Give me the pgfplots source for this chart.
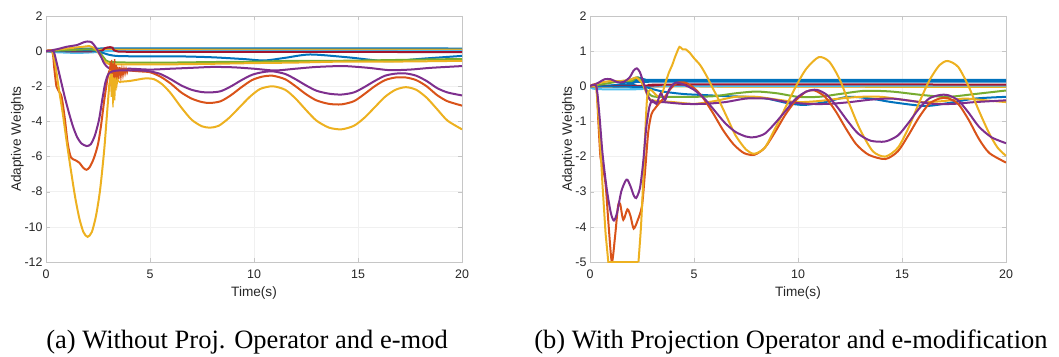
\documentclass[border=0pt]{standalone}
\usepackage{pgfplots}
\pgfplotsset{compat=1.18}
\usepackage{fontspec}
\setmainfont{Liberation Serif}
\newfontfamily\arial{Liberation Sans}
\newcommand\tickfont{\arial\fontsize{12.4}{14}\selectfont}
\newcommand\labfont{\arial\fontsize{13.6}{15}\selectfont}
\definecolor{mblue}{RGB}{0,114,189}
\definecolor{morange}{RGB}{217,83,25}
\definecolor{myellow}{RGB}{237,177,32}
\definecolor{mpurple}{RGB}{126,47,142}
\definecolor{mgreen}{RGB}{119,172,48}
\definecolor{mlblue}{RGB}{77,190,238}
\definecolor{mred}{RGB}{162,20,47}
\pgfplotsset{mstyle/.style={scale only axis, width=416pt, height=246pt,
  xmin=0, xmax=20, xtick={0,5,10,15,20},
  grid=major, major grid style={gray!12, line width=0.5pt},
  axis line style={gray!45, line width=0.6pt}, tick style={gray!45},
  tick align=inside, major tick length=4pt,
  ticklabel style={font=\tickfont, text=black!85},
  xticklabel style={yshift=-4pt},
  label style={font=\labfont, text=black!85},
  xlabel={Time(s)}, ylabel={Adaptive Weights},
  xlabel shift=1pt, ylabel shift=-6pt,
  /pgf/number format/assume math mode=true,
  every axis plot/.append style={line width=2pt, smooth, tension=0.45}}}
\begin{document}
\begin{tikzpicture}
\useasboundingbox (0,0) rectangle (1059pt,356pt);
% ---------------- (a) ----------------
\begin{axis}[mstyle, at={(46pt,94pt)}, anchor=south west, ymin=-12, ymax=2, ytick={-12,-10,...,2}]
% near-zero lines
\addplot[mblue] coordinates {(0,0) (0.5,0.05) (1.5,0.1) (2.5,0.15) (20,0.15)};
\addplot[morange] coordinates {(0,0) (2,0.02) (3,0.05) (20,0.05)};
\addplot[myellow] coordinates {(0,0) (2,0.05) (3,0.08) (20,0.08)};
\addplot[mlblue] coordinates {(0,0) (0.3,-0.05) (1.5,-0.1) (2.5,-0.05) (3,0) (20,0.02)};
\addplot[mred] coordinates {(0,0) (2.5,0) (2.8,0.15) (3.0,0.22) (3.2,0.2) (3.4,0) (5,-0.04) (20,-0.05)};
\addplot[mblue] coordinates {(0,0) (2.0,0.05) (2.6,-0.05) (3.0,-0.2) (3.5,-0.28) (5,-0.3) (6.5,-0.3) (8,-0.35) (9.5,-0.45) (10.5,-0.53) (11.5,-0.38) (12.7,-0.19) (14.5,-0.35) (16.4,-0.57) (18.2,-0.42) (20,-0.27)};
\addplot[mgreen] coordinates {(0,0) (2.0,0.1) (2.5,0.0) (2.8,-0.4) (3.0,-0.6) (4,-0.65) (6,-0.65) (8,-0.62) (10,-0.6) (12,-0.55) (14,-0.55) (16,-0.52) (18,-0.48) (20,-0.45)};
\addplot[myellow] coordinates {(0,0) (1,0.15) (1.8,0.25) (2.1,0.28) (2.4,0.1) (2.7,-0.4) (3.0,-0.72) (4,-0.75) (6,-0.75) (8,-0.72) (10,-0.68) (12,-0.65) (14,-0.6) (16,-0.6) (18,-0.58) (20,-0.55)};
\addplot[mpurple] coordinates {(0,0) (0.5,0.1) (1.0,0.25) (1.5,0.35) (1.8,0.5) (2.0,0.55) (2.2,0.5) (2.4,0.2) (2.6,-0.2) (2.8,-0.7) (3.0,-0.95) (3.3,-1.05) (4.0,-1.0) (5.0,-1.05) (6.0,-1.0) (7.0,-0.95) (8.0,-0.9) (9.0,-0.92) (10.0,-1.0) (11.0,-1.1) (12.0,-1.0) (13.0,-0.9) (14.3,-0.85) (15.5,-0.95) (16.5,-1.08) (17.5,-1.05) (18.5,-0.95) (20,-0.85)};
% big curves
\addplot[morange] coordinates {(0,0) (0.3,0) (0.4,-1.0) (0.5,-2.0) (0.6,-2.25) (0.75,-2.6) (0.9,-3.8) (1.05,-5.3) (1.2,-6.05) (1.4,-6.2) (1.6,-6.35) (1.8,-6.65) (1.95,-6.75) (2.1,-6.6) (2.3,-6.1) (2.5,-5.3) (2.65,-4.2) (2.8,-2.8) (2.95,-1.6) (3.05,-1.1)};
\addplot[morange, line width=1.3pt, sharp plot] coordinates {(3.05,-1.1) (3.1,-0.6) (3.13,-2.0) (3.16,-0.5) (3.2,-2.3) (3.23,-0.7) (3.27,-1.9) (3.3,-0.45) (3.34,-2.0) (3.38,-0.8) (3.42,-1.7) (3.46,-0.9) (3.5,-1.6) (3.55,-0.9) (3.6,-1.5) (3.65,-1.0) (3.7,-1.4) (3.75,-1.0) (3.8,-1.3) (3.85,-1.0) (3.9,-1.25) (3.95,-1.05) (4.0,-1.1)};
\addplot[morange] coordinates {(4.0,-1.1) (4.5,-1.15) (5.0,-1.2) (5.5,-1.45) (6.0,-1.85) (6.5,-2.35) (7.0,-2.7) (7.5,-2.9) (7.9,-2.95) (8.4,-2.85) (8.9,-2.5) (9.4,-2.05) (9.9,-1.65) (10.4,-1.45) (10.9,-1.4) (11.5,-1.6) (12.0,-2.0) (12.5,-2.45) (13.0,-2.8) (13.6,-3.0) (14.2,-3.03) (14.8,-2.85) (15.3,-2.45) (15.8,-2.0) (16.3,-1.65) (16.8,-1.5) (17.3,-1.5) (17.8,-1.65) (18.3,-2.0) (18.8,-2.5) (19.3,-2.85) (20,-3.1)};
\addplot[myellow] coordinates {(0,0) (0.3,0) (0.45,-0.8) (0.6,-2.0) (0.8,-3.5) (1.0,-5.2) (1.2,-6.8) (1.4,-8.3) (1.6,-9.5) (1.8,-10.3) (2.0,-10.57) (2.2,-10.3) (2.4,-9.4) (2.6,-7.9) (2.8,-5.6) (2.95,-3.3) (3.05,-1.8)};
\addplot[myellow, line width=1.3pt, sharp plot] coordinates {(3.05,-1.8) (3.1,-1.1) (3.14,-2.6) (3.18,-1.3) (3.22,-3.2) (3.26,-1.5) (3.3,-2.8) (3.35,-1.5) (3.4,-2.0) (3.45,-1.6) (3.5,-1.75)};
\addplot[myellow] coordinates {(3.5,-1.75) (4.0,-1.7) (4.5,-1.6) (4.8,-1.55) (5.2,-1.6) (5.6,-1.9) (6.0,-2.4) (6.5,-3.2) (7.0,-3.9) (7.5,-4.28) (7.9,-4.35) (8.3,-4.25) (8.8,-3.8) (9.3,-3.2) (9.8,-2.6) (10.3,-2.15) (10.9,-2.0) (11.5,-2.2) (12.0,-2.7) (12.5,-3.35) (13.0,-3.95) (13.6,-4.35) (14.2,-4.45) (14.8,-4.25) (15.3,-3.8) (15.8,-3.2) (16.3,-2.6) (16.8,-2.2) (17.3,-2.05) (17.8,-2.2) (18.3,-2.65) (18.8,-3.3) (19.3,-3.95) (20,-4.45)};
\addplot[mpurple] coordinates {(0,0) (0.35,0) (0.5,-0.6) (0.7,-1.6) (0.9,-2.6) (1.1,-3.5) (1.3,-4.3) (1.5,-4.9) (1.7,-5.25) (1.95,-5.4) (2.15,-5.3) (2.35,-4.8) (2.55,-3.9) (2.7,-2.8) (2.85,-1.8) (3.0,-1.3) (3.2,-1.15) (3.5,-1.1) (4.0,-1.1) (4.5,-1.1) (5.0,-1.15) (5.5,-1.3) (6.0,-1.6) (6.5,-1.95) (7.0,-2.2) (7.5,-2.33) (7.9,-2.35) (8.4,-2.28) (8.9,-2.0) (9.4,-1.65) (9.9,-1.35) (10.4,-1.2) (10.9,-1.15) (11.5,-1.3) (12.0,-1.6) (12.5,-1.95) (13.0,-2.25) (13.6,-2.42) (14.2,-2.47) (14.8,-2.35) (15.3,-2.05) (15.8,-1.7) (16.3,-1.4) (16.8,-1.28) (17.3,-1.27) (17.8,-1.4) (18.3,-1.7) (18.8,-2.1) (19.3,-2.35) (20,-2.52)};
\end{axis}
% ---------------- (b) ----------------
\begin{axis}[mstyle, at={(590pt,94pt)}, anchor=south west, ymin=-5, ymax=2, ytick={-5,-4,...,2}]
\addplot[mblue] coordinates {(0,0) (1.0,0.02) (1.6,0.08) (2.0,0.2) (2.3,0.25) (2.6,0.2) (3,0.18) (20,0.18)};
\addplot[mblue] coordinates {(0,0) (2,0.05) (3,0.13) (20,0.13)};
\addplot[morange] coordinates {(0,0) (3.5,0) (4.0,0.05) (4.3,0.1) (4.7,0.05) (5.5,0) (20,0.0)};
\addplot[myellow] coordinates {(0,0) (20,-0.02)};
\addplot[mlblue] coordinates {(0,0) (0.3,-0.08) (2.5,-0.08) (3,0) (20,0.02)};
\addplot[mred] coordinates {(0,0) (3,0.02) (4,0.05) (20,0.05)};
\addplot[mblue] coordinates {(0,0) (2.5,-0.02) (3.0,-0.08) (3.5,-0.15) (4.5,-0.22) (5.5,-0.25) (6.5,-0.28) (7.5,-0.3) (8.5,-0.35) (9.5,-0.48) (10.3,-0.53) (11.3,-0.45) (12.4,-0.3) (13.5,-0.35) (14.5,-0.45) (16.1,-0.56) (17.2,-0.48) (18.5,-0.35) (20,-0.3)};
\addplot[mgreen] coordinates {(0,0) (0.5,0.05) (1.0,0.1) (1.5,0.15) (2.0,0.15) (2.3,0.25) (2.6,0.0) (2.9,-0.25) (3.2,-0.3) (4,-0.3) (5,-0.3) (6,-0.28) (7,-0.2) (8,-0.15) (9,-0.2) (10,-0.3) (11,-0.3) (12,-0.22) (13.2,-0.13) (14.5,-0.15) (16,-0.25) (17.2,-0.3) (18.5,-0.22) (20,-0.12)};
\addplot[myellow] coordinates {(0,0) (0.5,0.1) (1.0,0.15) (1.5,0.15) (2.0,0.2) (2.2,0.25) (2.5,0.1) (2.8,-0.3) (3.0,-0.4) (4,-0.45) (5,-0.5) (6,-0.42) (7,-0.3) (8,-0.3) (9,-0.38) (10,-0.45) (11,-0.42) (12,-0.35) (13,-0.3) (14,-0.3) (15,-0.38) (16,-0.45) (17,-0.42) (18,-0.35) (19,-0.4) (20,-0.45)};
\addplot[mpurple] coordinates {(0,0) (0.4,0.1) (0.7,0.2) (1.0,0.2) (1.3,0.12) (1.6,0.12) (1.9,0.25) (2.1,0.45) (2.25,0.51) (2.4,0.4) (2.6,0.05) (2.8,-0.3) (3.0,-0.45) (3.5,-0.45) (4.5,-0.5) (5.5,-0.5) (6.5,-0.45) (7.5,-0.35) (8.5,-0.35) (9.5,-0.45) (10.5,-0.5) (11.5,-0.5) (12.5,-0.45) (13.5,-0.38) (14.5,-0.35) (15.5,-0.42) (16.5,-0.5) (17.5,-0.5) (18.5,-0.45) (20,-0.4)};
% big curves
\addplot[morange] coordinates {(0,0) (0.3,0) (0.4,-1.0) (0.5,-2.0) (0.6,-2.25) (0.75,-2.8) (0.9,-4.0) (1.05,-5.0) (1.2,-4.3) (1.35,-3.4) (1.45,-3.35) (1.6,-3.8) (1.8,-3.5) (1.95,-3.7) (2.1,-4.05) (2.3,-3.8) (2.5,-3.4) (2.65,-2.4) (2.8,-1.3) (2.95,-0.8) (3.1,-0.65) (3.3,-0.5) (3.6,-0.3) (3.9,-0.05) (4.2,0.1) (4.6,0.1) (5.0,-0.05) (5.4,-0.3) (5.9,-0.75) (6.4,-1.25) (6.9,-1.65) (7.4,-1.9) (7.9,-1.95) (8.4,-1.75) (8.9,-1.3) (9.4,-0.8) (9.9,-0.4) (10.4,-0.15) (10.8,-0.12) (11.3,-0.3) (11.8,-0.7) (12.3,-1.2) (12.8,-1.65) (13.4,-1.95) (14.2,-2.07) (14.8,-1.85) (15.3,-1.4) (15.8,-0.9) (16.3,-0.5) (16.8,-0.35) (17.2,-0.34) (17.7,-0.5) (18.2,-0.95) (18.7,-1.5) (19.2,-1.9) (20,-2.17)};
\addplot[myellow, sharp plot] coordinates {(0,0) (0.3,0) (0.45,-1.2) (0.6,-2.8) (0.75,-4.2) (0.88,-5) (2.33,-5)};
\addplot[myellow] coordinates {(2.33,-5) (2.45,-4.0) (2.55,-2.8) (2.65,-1.4) (2.75,-0.3) (2.9,-0.1) (3.1,-0.2) (3.3,-0.3) (3.5,-0.15) (3.6,0.05) (3.8,0.4) (3.95,0.6) (4.1,0.85) (4.3,1.12) (4.45,1.05) (4.6,1.05) (4.8,0.95) (5.0,0.8) (5.3,0.6) (5.6,0.3) (5.9,-0.05) (6.2,-0.4) (6.6,-0.9) (7.0,-1.4) (7.5,-1.8) (7.9,-1.92) (8.4,-1.75) (8.9,-1.2) (9.4,-0.6) (9.9,0.0) (10.4,0.5) (11.0,0.83) (11.5,0.7) (12.0,0.2) (12.5,-0.55) (13.0,-1.25) (13.6,-1.85) (14.2,-2.0) (14.8,-1.75) (15.3,-1.2) (15.8,-0.5) (16.3,0.15) (16.8,0.6) (17.2,0.72) (17.7,0.55) (18.2,0.0) (18.7,-0.7) (19.2,-1.35) (19.6,-1.75) (20,-1.98)};
\addplot[mpurple] coordinates {(0,0) (0.3,0) (0.45,-0.8) (0.6,-1.9) (0.8,-2.9) (1.0,-3.6) (1.15,-3.82) (1.3,-3.6) (1.5,-3.0) (1.7,-2.7) (1.8,-2.66) (1.95,-2.85) (2.1,-3.1) (2.22,-3.18) (2.4,-2.9) (2.55,-2.2) (2.7,-1.2) (2.85,-0.6) (3.0,-0.4) (3.2,-0.5) (3.4,-0.2) (3.6,-0.4) (3.8,-0.1) (4.1,0.1) (4.5,0.05) (5.0,-0.1) (5.5,-0.35) (6.0,-0.7) (6.5,-1.05) (7.0,-1.3) (7.5,-1.43) (7.9,-1.45) (8.4,-1.35) (8.9,-1.05) (9.4,-0.7) (9.9,-0.35) (10.4,-0.15) (10.9,-0.1) (11.4,-0.25) (11.9,-0.6) (12.4,-1.0) (12.9,-1.35) (13.5,-1.55) (14.2,-1.57) (14.8,-1.4) (15.3,-1.05) (15.8,-0.65) (16.3,-0.35) (16.8,-0.25) (17.2,-0.25) (17.7,-0.4) (18.2,-0.75) (18.7,-1.15) (19.3,-1.45) (20,-1.62)};
\end{axis}
\node[anchor=base, font=\fontsize{26.5}{30}\selectfont] at (247pt,8pt) {(a) Without Proj. Operator and e-mod};
\node[anchor=base, font=\fontsize{26.5}{30}\selectfont] at (791pt,8pt) {(b) With Projection Operator and e-modification};
\end{tikzpicture}
\end{document}
